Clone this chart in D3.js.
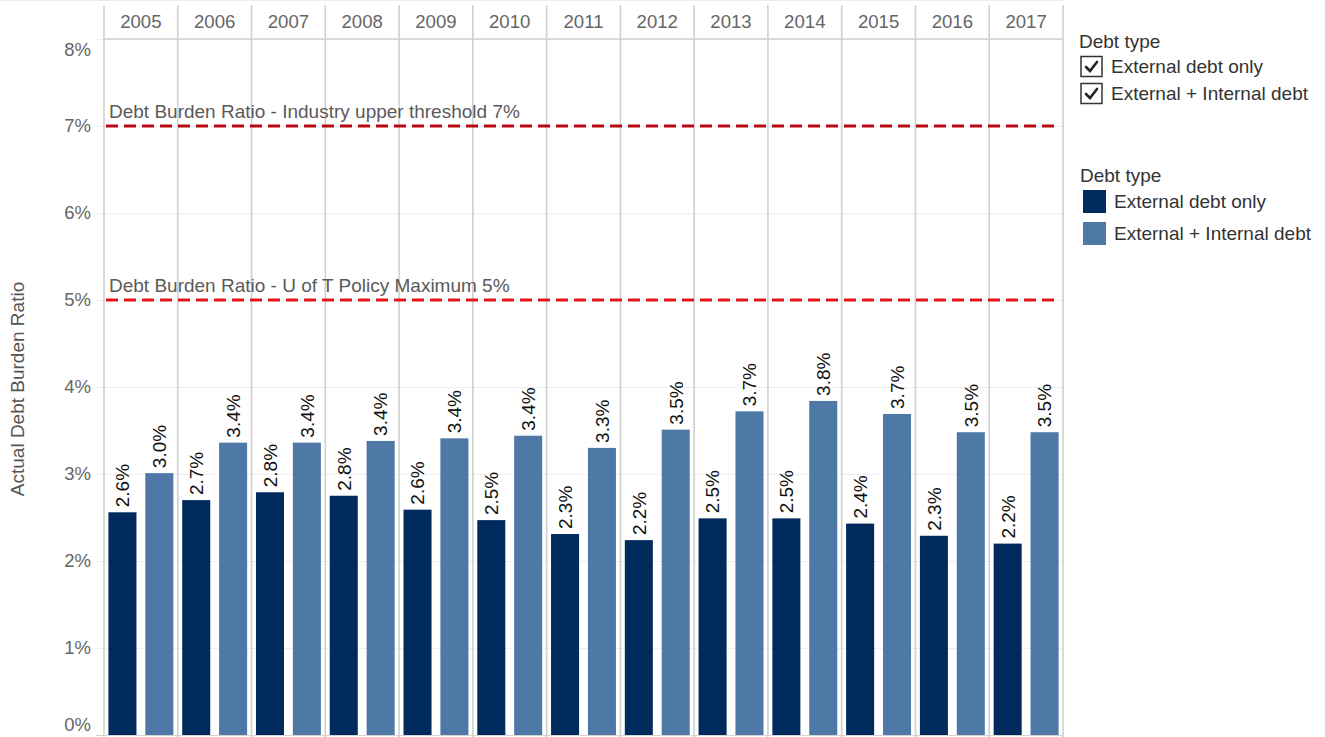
<!DOCTYPE html>
<html>
<head>
<meta charset="utf-8">
<script src="https://cdn.jsdelivr.net/npm/d3@7"></script>
<style>
  html, body { margin: 0; padding: 0; background: #fff; }
  svg { display: block; font-family: Arial, "Liberation Sans", sans-serif; }
</style>
</head>
<body>
<svg id="chart" width="1325" height="737"></svg>
<script>
// Fiscal years shown as column panels
const years = ["2005","2006","2007","2008","2009","2010","2011","2012","2013","2014","2015","2016","2017"];
// Debt type series
const series = ["External debt only", "External + Internal debt"];
// Debt burden ratio (%) per year, by debt type
const externalOnly  = [2.56, 2.70, 2.79, 2.75, 2.59, 2.47, 2.31, 2.24, 2.49, 2.49, 2.43, 2.29, 2.20];
const extPlusInt    = [3.01, 3.36, 3.36, 3.38, 3.41, 3.44, 3.30, 3.51, 3.72, 3.84, 3.69, 3.48, 3.48];
// Y axis ticks (%)
const yTicks = [0, 1, 2, 3, 4, 5, 6, 7, 8];
// Reference lines
const refValues = [7, 5];
const refLabels = ["Debt Burden Ratio - Industry upper threshold 7%", "Debt Burden Ratio - U of T Policy Maximum 5%"];
const refColors = ["#b8070f", "#e5141b"];

const colors = ["#002b5c", "#4e79a7"];

const svg = d3.select("#chart");
const paneLeft = 104, paneRight = 1063, paneTop = 39, paneBottom = 735, headerTop = 5;

const y = d3.scaleLinear().domain([0, 8]).range([paneBottom, paneTop]);
const x0 = d3.scaleBand().domain(years).range([paneLeft, paneRight]).padding(0);
const x1 = d3.scaleBand().domain(series).range([0, x0.bandwidth()]).paddingInner(0.24).paddingOuter(0.12);
const color = d3.scaleOrdinal().domain(series).range(colors);

const rows = years.map((yr, i) => ({ year: yr, values: [
  { key: series[0], value: externalOnly[i] },
  { key: series[1], value: extPlusInt[i] }
]}));

// faint top border
svg.append("line").attr("x1", 0).attr("x2", 1065).attr("y1", 0.5).attr("y2", 0.5)
  .attr("stroke", "#e8eef5").attr("stroke-width", 1);

// horizontal gridlines
svg.append("g").selectAll("line").data(yTicks).join("line")
  .attr("x1", 96).attr("x2", paneRight)
  .attr("y1", d => Math.round(y(d)) + 0.5).attr("y2", d => Math.round(y(d)) + 0.5)
  .attr("stroke", d => d === 0 ? "#d4d4d4" : "#efefef").attr("stroke-width", 1.2);

// header bottom border
svg.append("line").attr("x1", paneLeft).attr("x2", paneRight).attr("y1", paneTop).attr("y2", paneTop)
  .attr("stroke", "#d0d0d0").attr("stroke-width", 1.5);

// column separators
const seps = years.map(yr => x0(yr)).concat([paneRight]);
svg.append("g").selectAll("line").data(seps).join("line")
  .attr("x1", d => d).attr("x2", d => d)
  .attr("y1", headerTop).attr("y2", 737)
  .attr("stroke", "#d0d0d0").attr("stroke-width", 1.6);

// column headers
svg.append("g").selectAll("text").data(years).join("text")
  .attr("x", d => x0(d) + x0.bandwidth() / 2)
  .attr("y", 28)
  .attr("text-anchor", "middle")
  .attr("font-size", 18.6).attr("fill", "#666")
  .text(d => d);

// y tick labels (edge labels nudged inside the pane)
svg.append("g").selectAll("text").data(yTicks).join("text")
  .attr("x", 91)
  .attr("y", d => y(d) + (d === 8 ? 11 : d === 0 ? -10 : 0))
  .attr("dy", "0.35em")
  .attr("text-anchor", "end")
  .attr("font-size", 18.5).attr("fill", "#666")
  .text(d => d + "%");

// y axis title
svg.append("text")
  .attr("transform", `translate(24,${(paneTop + paneBottom) / 2 + 2}) rotate(-90)`)
  .attr("text-anchor", "middle")
  .attr("font-size", 19).attr("fill", "#555")
  .text("Actual Debt Burden Ratio");

// bars
const groups = svg.append("g").selectAll("g").data(rows).join("g")
  .attr("transform", d => `translate(${x0(d.year)},0)`);

groups.selectAll("rect").data(d => d.values).join("rect")
  .attr("x", d => x1(d.key))
  .attr("width", x1.bandwidth())
  .attr("y", d => y(d.value))
  .attr("height", d => y(0) - y(d.value))
  .attr("fill", d => color(d.key));

const fmt = d3.format(".1f");
groups.selectAll("text").data(d => d.values).join("text")
  .attr("transform", d => `translate(${x1(d.key) + x1.bandwidth() / 2},${y(d.value) - 5}) rotate(-90)`)
  .attr("dy", "0.36em")
  .attr("text-anchor", "start")
  .attr("font-size", 19).attr("fill", "#111")
  .text(d => fmt(d.value) + "%");

// reference lines
refValues.forEach((v, i) => {
  svg.append("line")
    .attr("x1", paneLeft + 2).attr("x2", paneRight - 3)
    .attr("y1", y(v)).attr("y2", y(v))
    .attr("stroke", refColors[i]).attr("stroke-width", 3)
    .attr("stroke-dasharray", "12,6");
  svg.append("text")
    .attr("x", 109).attr("y", y(v) - 8)
    .attr("font-size", 19).attr("fill", "#5a5a5a")
    .text(refLabels[i]);
});

// filter legend with checkboxes
const lg1 = svg.append("g");
lg1.append("text").attr("x", 1079).attr("y", 48).attr("font-size", 19).attr("fill", "#333").text("Debt type");
series.forEach((s, i) => {
  const yy = 56 + i * 27;
  lg1.append("rect").attr("x", 1081).attr("y", yy + 0.5).attr("width", 21).attr("height", 20)
    .attr("fill", "#fff").attr("stroke", "#333").attr("stroke-width", 1.5);
  lg1.append("path")
    .attr("d", `M${1086},${yy + 11} L${1090},${yy + 15} L${1097},${yy + 6}`)
    .attr("fill", "none").attr("stroke", "#222").attr("stroke-width", 2.6).attr("stroke-linecap", "round");
  lg1.append("text").attr("x", 1111).attr("y", yy + 16.5).attr("font-size", 19).attr("fill", "#333").text(s);
});

// colour legend
const lg2 = svg.append("g");
lg2.append("text").attr("x", 1080).attr("y", 182).attr("font-size", 19).attr("fill", "#333").text("Debt type");
series.forEach((s, i) => {
  const yy = 190 + i * 32;
  lg2.append("rect").attr("x", 1083).attr("y", yy).attr("width", 23).attr("height", 23).attr("fill", color(s));
  lg2.append("text").attr("x", 1114).attr("y", yy + 18).attr("font-size", 19).attr("fill", "#333").text(s);
});
</script>
</body>
</html>
